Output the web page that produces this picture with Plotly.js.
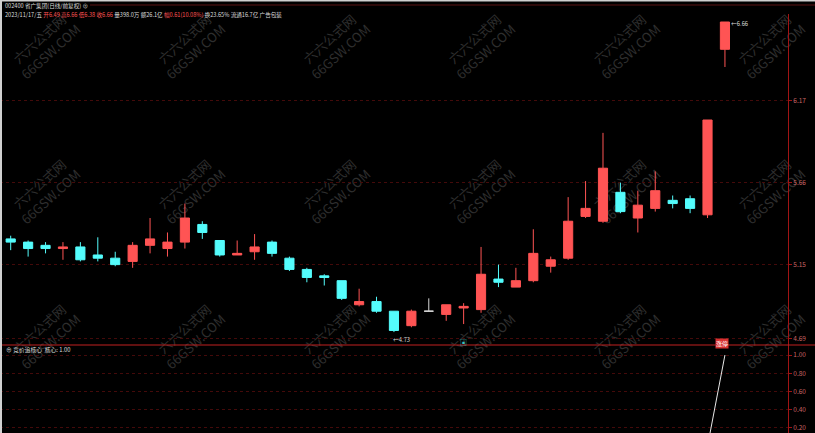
<!DOCTYPE html>
<html><head><meta charset="utf-8">
<script src="https://cdn.plot.ly/plotly-3.0.1.min.js"></script>
<style>html,body{margin:0;padding:0;background:#000;overflow:hidden}
#wm,#chart{position:absolute;left:0;top:0;width:815px;height:433px}</style>
</head><body><div id="wm"></div><div id="chart"></div>
<script>
const dates = ['2023-09-13','2023-09-14','2023-09-15','2023-09-18','2023-09-19','2023-09-20','2023-09-21','2023-09-22','2023-09-25','2023-09-26','2023-09-27','2023-09-28',
 '2023-10-09','2023-10-10','2023-10-11','2023-10-12','2023-10-13','2023-10-16','2023-10-17','2023-10-18','2023-10-19','2023-10-20','2023-10-23','2023-10-24','2023-10-25','2023-10-26','2023-10-27','2023-10-30','2023-10-31',
 '2023-11-01','2023-11-02','2023-11-03','2023-11-06','2023-11-07','2023-11-08','2023-11-09','2023-11-10','2023-11-13','2023-11-14','2023-11-15','2023-11-16','2023-11-17'];
const open  = [5.31,5.29,5.27,5.25,5.26,5.21,5.19,5.17,5.27,5.25,5.29,5.40,5.30,5.21,5.23,5.29,5.19,5.12,5.08,5.05,4.90,4.92,4.86,4.77,4.86,4.84,4.88,4.87,5.06,5.01,5.05,5.14,5.19,5.45,5.42,5.60,5.44,5.50,5.55,5.56,5.46,6.49];
const high  = [5.33,5.30,5.29,5.29,5.29,5.32,5.23,5.29,5.44,5.35,5.53,5.42,5.30,5.30,5.34,5.30,5.20,5.13,5.09,5.05,5.00,4.95,4.86,4.87,4.94,4.90,4.91,5.26,5.15,5.13,5.37,5.20,5.57,5.67,5.97,5.66,5.61,5.73,5.58,5.58,6.05,6.66];
const low   = [5.24,5.20,5.22,5.18,5.17,5.17,5.14,5.13,5.22,5.20,5.25,5.31,5.20,5.21,5.18,5.20,5.11,5.04,5.02,4.93,4.89,4.85,4.73,4.76,4.86,4.80,4.78,4.85,5.01,5.01,5.04,5.10,5.18,5.44,5.41,5.47,5.35,5.48,5.50,5.47,5.44,6.38];
const close = [5.29,5.25,5.25,5.26,5.18,5.19,5.15,5.27,5.31,5.29,5.44,5.35,5.21,5.22,5.26,5.22,5.12,5.07,5.07,4.94,4.92,4.86,4.74,4.86,4.86,4.90,4.89,5.09,5.04,5.05,5.22,5.18,5.42,5.50,5.75,5.48,5.52,5.61,5.53,5.50,6.05,6.66];
const core  = [0,0,0,0,0,0,0,0,0,0,0,0,0,0,0,0,0,0,0,0,0,0,0,0,0,0,0,0,0,0,0,0,0,0,0,0,0,0,0,0,0,1];
const priceTicks = [6.17, 5.66, 5.15, 4.69];
const coreTicks = [1.00, 0.80, 0.60, 0.40, 0.20];
const signalDates = ['2023-10-27'];
const header1 = '002400 省广集团(日线/前复权) ⊕';
const header2 = [['2023/11/17/五','w'],['开6.49','r'],['高6.66','r'],['低6.38','r'],['收6.66','r'],['量398.0万','w'],['额26.1亿','w'],['幅0.61(10.08%)','r'],['换23.65%','w'],['流通16.7亿','w'],['广告包装','w']];
const indicatorLabel = '⊕ 竞价追核心  核心: 1.00';
const limitLabel = '涨停';
const wmText = '六六公式网<br>66GSW.COM';

const RED='#ff5454', CYAN='#54fcfc', DOJI='#d8d8d8', WHITE='#dcdcdc';
const FONT='Noto Sans CJK SC, DejaVu Sans, sans-serif';
const W=815, H=433, PW=788;
const isDoji = open.map((o,i)=>o===close[i]);
const mask = (arr,keep)=>arr.map((v,i)=>keep(i)?v:null);

const traces = [
 {type:'candlestick', x:dates, open:mask(open,i=>!isDoji[i]), high:mask(high,i=>!isDoji[i]), low:mask(low,i=>!isDoji[i]), close:mask(close,i=>!isDoji[i]),
  increasing:{line:{color:RED,width:1},fillcolor:RED}, decreasing:{line:{color:CYAN,width:1},fillcolor:CYAN},
  whiskerwidth:0, hoverinfo:'skip', xaxis:'x', yaxis:'y', showlegend:false},
 {type:'candlestick', x:dates, open:mask(open,i=>isDoji[i]), high:mask(high,i=>isDoji[i]), low:mask(low,i=>isDoji[i]), close:mask(close,i=>isDoji[i]),
  increasing:{line:{color:DOJI,width:1},fillcolor:DOJI}, decreasing:{line:{color:DOJI,width:1},fillcolor:DOJI},
  whiskerwidth:0, hoverinfo:'skip', xaxis:'x', yaxis:'y', showlegend:false},
 {type:'scatter', mode:'lines', x:dates, y:core, line:{color:'#e8e8e8',width:1}, xaxis:'x', yaxis:'y2', hoverinfo:'skip', showlegend:false}
];

const px = x=>x/PW, py = y=>(H-y)/H;
const ann = [];
ann.push({xref:'paper',yref:'paper',x:px(3),y:py(6),xanchor:'left',yanchor:'middle',showarrow:false,text:header1,font:{family:FONT,size:5.6,color:WHITE}});
ann.push({xref:'paper',yref:'paper',x:px(3),y:py(15.5),xanchor:'left',yanchor:'middle',showarrow:false,
  text:header2.map(([t,c])=>`<span style="color:${c==='r'?RED:WHITE}">${t}</span>`).join(' '),font:{family:FONT,size:5.6,color:WHITE}});
ann.push({xref:'paper',yref:'paper',x:px(4),y:py(349.5),xanchor:'left',yanchor:'middle',showarrow:false,text:indicatorLabel,font:{family:FONT,size:5.8,color:WHITE}});
const iMin = low.indexOf(Math.min(...low)), iMax = high.indexOf(Math.max(...high));
ann.push({xref:'x',yref:'y',x:dates[iMin],y:low[iMin],xanchor:'left',yanchor:'top',xshift:-3,yshift:-1,showarrow:false,text:'←'+low[iMin].toFixed(2),font:{family:FONT,size:5.8,color:WHITE}});
ann.push({xref:'x',yref:'y',x:dates[iMax],y:high[iMax],xanchor:'left',yanchor:'middle',xshift:4,yshift:-2,showarrow:false,text:'←'+high[iMax].toFixed(2),font:{family:FONT,size:5.8,color:WHITE}});
ann.push({xref:'x',yref:'paper',x:dates[dates.length-1],y:py(343),xanchor:'center',yanchor:'middle',xshift:-3,showarrow:false,text:limitLabel,bgcolor:'#d83030',borderpad:0,font:{family:FONT,size:6,color:'#ffffff'}});
signalDates.forEach(d=>ann.push({xref:'x',yref:'paper',x:d,y:py(342),xanchor:'center',yanchor:'middle',showarrow:false,text:'▣',font:{family:FONT,size:7,color:'#3cc0c0'}}));

const wmAnn = [];
[45,190,335].forEach(wy=>[45,190,335,480,625,770].forEach(wx=>{
  wmAnn.push({xref:'paper',yref:'paper',x:wx/W,y:py(wy),xanchor:'center',yanchor:'middle',showarrow:false,textangle:-42,
   text:wmText,font:{family:FONT,size:13,color:'#2e2e2e'}});
}));

const shapes = [
 {type:'line',xref:'paper',yref:'paper',x0:0,x1:W/PW,y0:py(345),y1:py(345),line:{color:'#c02020',width:1}},
 {type:'line',xref:'paper',yref:'paper',x0:px(90),x1:W/PW,y0:py(5),y1:py(5),line:{color:'#5a1212',width:1}},
 {type:'line',xref:'paper',yref:'paper',x0:px(1),x1:px(1),y0:0,y1:1,line:{color:'#d0d0d0',width:2}},
 {type:'line',xref:'paper',yref:'paper',x0:0,x1:W/PW,y0:py(0.5),y1:py(0.5),line:{color:'#d0d0d0',width:2}}
];

const yTop=14, yBot=345, scale=0.006224;
const axisCommon = {side:'right', anchor:'x', showgrid:true, gridcolor:'#440a0a', griddash:'dot', gridwidth:1,
  zeroline:false, showline:true, linecolor:'#a01414', linewidth:1, ticks:'outside', ticklen:3, tickcolor:'#a01414',
  tickfont:{family:FONT,size:6.5,color:'#c86464'}};
const layout = {
 width:W, height:H, paper_bgcolor:'rgba(0,0,0,0)', plot_bgcolor:'rgba(0,0,0,0)',
 margin:{l:0,r:W-PW,t:0,b:0}, showlegend:false, boxgap:0.25, hovermode:false,
 xaxis:{type:'category', visible:false, range:[-0.614, 44.62], rangeslider:{visible:false}, fixedrange:true},
 yaxis:Object.assign({domain:[py(yBot),py(yTop)], range:[6.66-(yBot-22)*scale, 6.66+(22-yTop)*scale],
  tickvals:priceTicks, ticktext:priceTicks.map(v=>v.toFixed(2))}, axisCommon),
 yaxis2:Object.assign({domain:[0,py(yBot)], range:[0.145,1.11],
  tickvals:coreTicks, ticktext:coreTicks.map(v=>v.toFixed(2))}, axisCommon),
 annotations:ann, shapes:shapes
};
Plotly.newPlot('wm', [], {width:W,height:H,paper_bgcolor:'#000',plot_bgcolor:'#000',margin:{l:0,r:0,t:0,b:0},
  xaxis:{visible:false},yaxis:{visible:false},annotations:wmAnn}, {staticPlot:true, displayModeBar:false});
Plotly.newPlot('chart', traces, layout, {staticPlot:true, displayModeBar:false});
</script></body></html>
